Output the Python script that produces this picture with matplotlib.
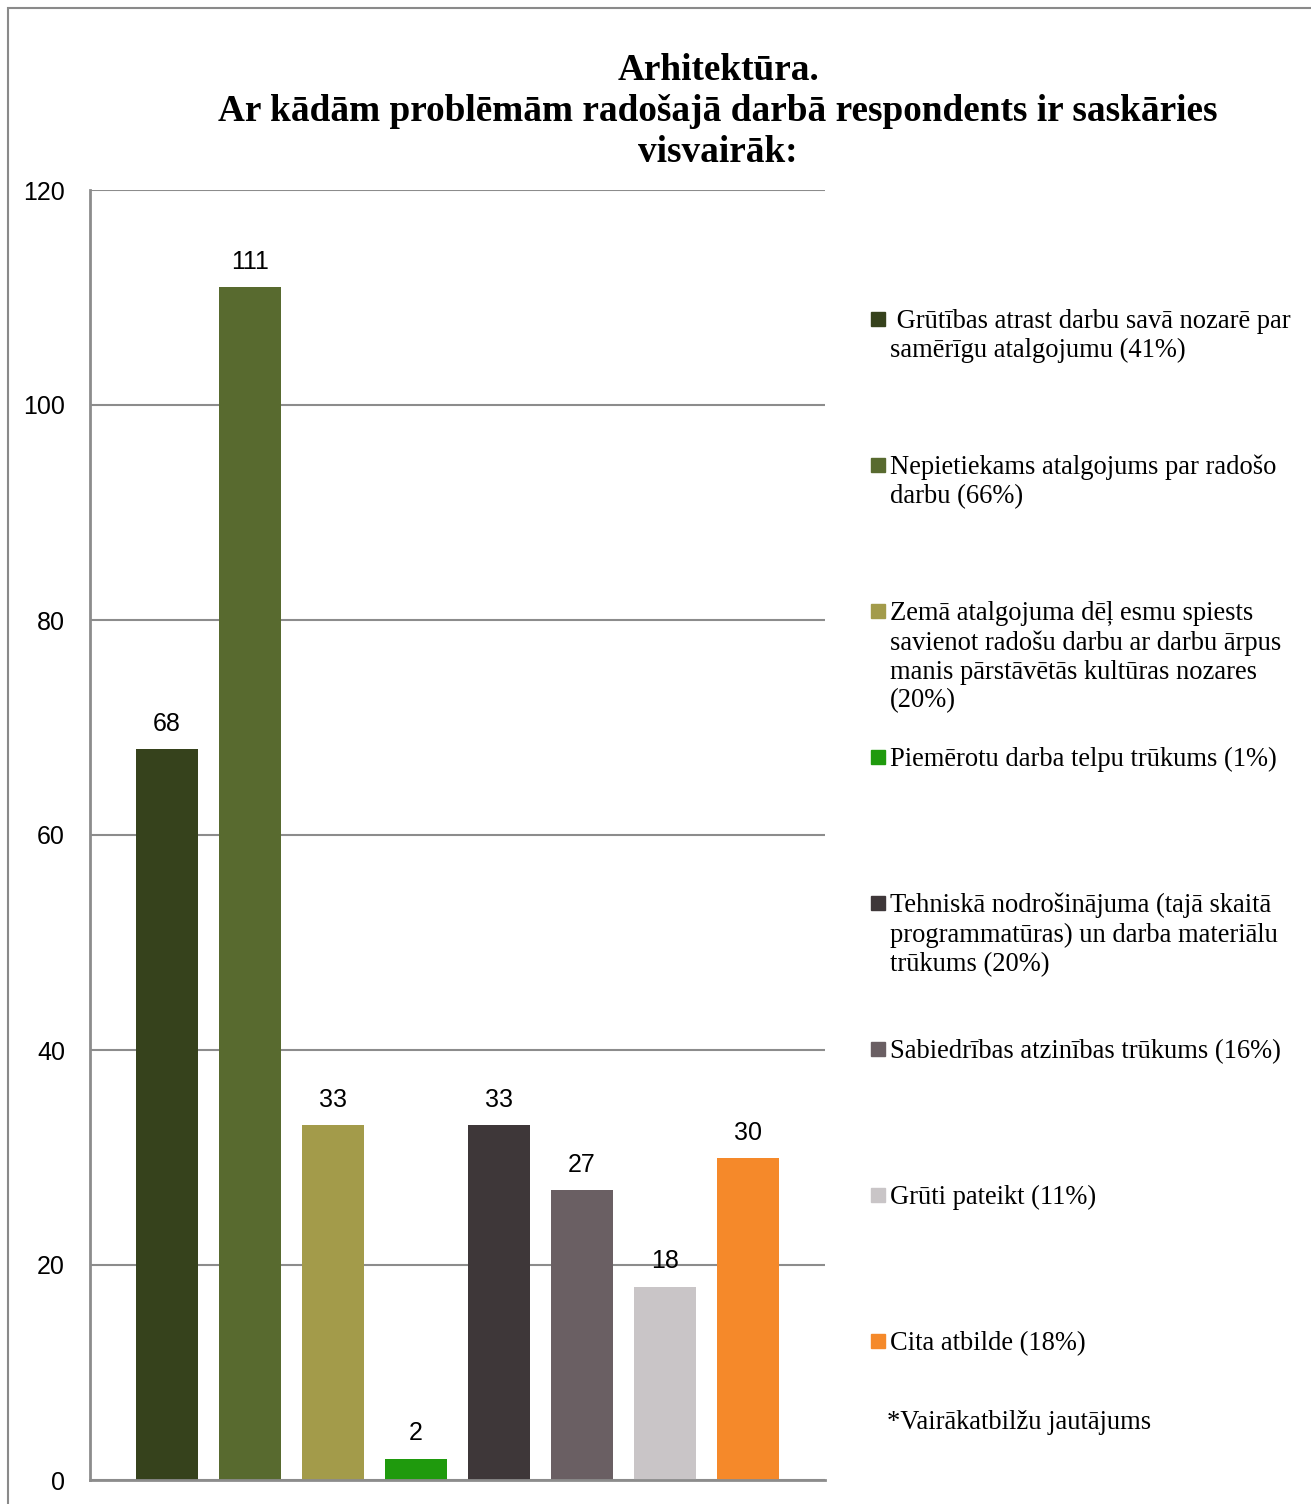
import matplotlib
import matplotlib.pyplot as plt
from matplotlib.patches import Rectangle

matplotlib.use("Agg")

W, H = 1311, 1504

title = "Arhitektūra.\nAr kādām problēmām radošajā darbā respondents ir saskāries\nvisvairāk:"
labels = [
    " Grūtības atrast darbu savā nozarē par\nsamērīgu atalgojumu (41%)",
    "Nepietiekams atalgojums par radošo\ndarbu (66%)",
    "Zemā atalgojuma dēļ esmu spiests\nsavienot radošu darbu ar darbu ārpus\nmanis pārstāvētās kultūras nozares\n(20%)",
    "Piemērotu darba telpu trūkums (1%)",
    "Tehniskā nodrošinājuma (tajā skaitā\nprogrammatūras) un darba materiālu\ntrūkums (20%)",
    "Sabiedrības atzinības trūkums (16%)",
    "Grūti pateikt (11%)",
    "Cita atbilde (18%)",
]
values = [68, 111, 33, 2, 33, 27, 18, 30]
colors = ["#36421c", "#586a2f", "#a39b4a", "#1f9a0d",
          "#3e3739", "#6a5f63", "#c9c5c7", "#f5892a"]
yticks = [0, 20, 40, 60, 80, 100, 120]
note = "*Vairākatbilžu jautājums"

fig = plt.figure(figsize=(W / 100, H / 100), dpi=100)

# outer frame, runs off the right and bottom edges
fig.patches.append(Rectangle((8 / W, -0.01), 1.1, 1 - 8 / H + 0.01,
                             transform=fig.transFigure, fill=False,
                             edgecolor="#8a8a8a", linewidth=1.5))

ax = fig.add_axes([90 / W, 1 - 1480 / H, 735 / W, 1290 / H])
x = list(range(len(values)))
ax.bar(x, values, width=0.75, color=colors, zorder=3)
ax.set_xlim(-0.93, len(values) - 1 + 0.93)
ax.set_ylim(0, 120)
ax.set_yticks(yticks)
ax.set_yticklabels([str(t) for t in yticks], fontfamily="Liberation Sans", fontsize=18)
ax.tick_params(axis="y", length=0, pad=18)
ax.set_xticks([])
ax.grid(axis="y", color="#8c8c8c", linewidth=1.5, zorder=0)
for s in ("top", "right"):
    ax.spines[s].set_visible(False)
for s in ("left", "bottom"):
    ax.spines[s].set_color("#8c8c8c")
    ax.spines[s].set_linewidth(2)
    ax.spines[s].set_zorder(4)

for xi, v in zip(x, values):
    ax.annotate(str(v), (xi, v), xytext=(0, 25), textcoords="offset pixels",
                ha="center", va="center", fontfamily="Liberation Sans", fontsize=18)

fig.text(718 / W, 1 - 53 / H, title, ha="center", va="top", fontfamily="Liberation Serif",
         fontweight="bold", fontsize=26.8, linespacing=1.22)

# legend, placed by hand like the original
for i, (lab, c) in enumerate(zip(labels, colors)):
    yc = 319 + 146 * i
    fig.patches.append(Rectangle((871 / W, 1 - (yc + 7) / H), 14 / W, 14 / H,
                                 transform=fig.transFigure, color=c))
    fig.text(890 / W, 1 - (yc - 10) / H, lab, ha="left", va="top",
             fontfamily="Liberation Serif", fontsize=19.1, linespacing=1.21)

fig.text(887 / W, 1 - 1429 / H, note, ha="left", va="baseline",
         fontfamily="Liberation Serif", fontsize=19.1)

fig.savefig("out.png", dpi=100)
plt.close(fig)
